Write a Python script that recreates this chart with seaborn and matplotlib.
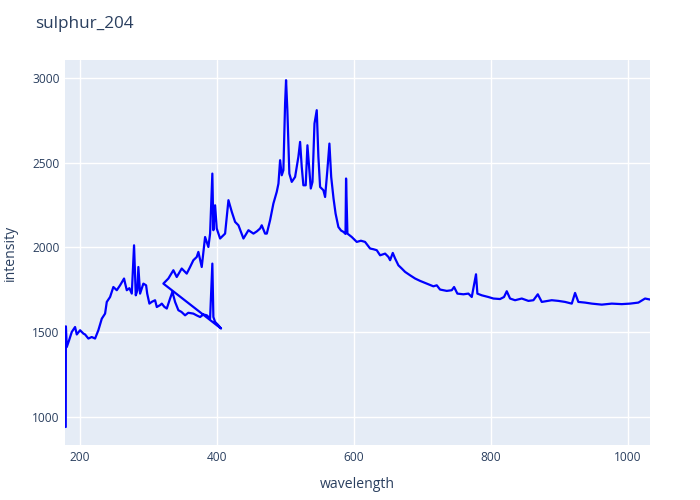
import matplotlib
matplotlib.use("Agg")
import matplotlib.pyplot as plt
import seaborn as sns
import pandas as pd

# first scan (179-406 nm), then second scan restarting at ~322 nm
wavelength = [
    179.1, 179.3, 180.6, 184.0, 187.9, 192.7, 195.2, 200.0, 204.9, 207.3, 212.1, 217.0,
    221.9, 226.7, 231.7, 236.5, 239.0, 243.8, 248.6, 253.6, 258.4, 264.2, 265.7, 268.2,
    272.0, 275.5, 278.8, 281.3, 283.7, 285.1, 287.6, 292.4, 296.4, 298.0, 301.2, 305.0,
    309.5, 312.0, 316.8, 319.3, 323.0, 326.6, 331.4, 334.8, 338.7, 343.5, 348.0, 353.3,
    358.0, 365.4, 370.0, 375.2, 380.0, 385.0, 389.8, 393.1, 394.6, 397.1, 401.0, 405.8,
    321.6, 328.9, 336.2, 341.1, 348.4, 355.7, 360.0, 365.4, 370.3, 372.7, 377.6, 382.5,
    387.3, 389.8, 393.1, 394.6, 397.1, 399.5, 404.4, 411.7, 414.2, 416.6, 421.5, 426.3,
    431.2, 438.5, 445.8, 453.1, 458.0, 462.8, 465.2, 470.1, 472.6, 477.4, 482.2, 487.1,
    489.6, 492.0, 494.4, 496.8, 499.3, 500.7, 502.6, 505.5, 509.0, 513.9, 518.7, 521.2,
    523.6, 526.0, 529.4, 531.9, 534.3, 536.8, 539.3, 542.2, 545.5, 547.9, 550.4, 555.2,
    557.7, 561.0, 564.0, 566.6, 570.0, 573.0, 577.1, 581.0, 584.5, 587.5, 588.3, 590.3,
    596.6, 603.9, 610.0, 616.0, 623.4, 628.0, 633.1, 638.0, 645.3, 650.2, 652.6, 656.5,
    659.9, 664.7, 669.6, 674.5, 681.8, 689.1, 696.4, 706.1, 715.8, 720.7, 725.5, 735.3,
    742.6, 746.0, 750.8, 759.6, 766.9, 771.8, 778.0, 780.0, 786.4, 796.0, 803.4, 813.1,
    818.9, 822.9, 827.7, 835.0, 844.8, 854.5, 861.8, 868.2, 874.0, 888.6, 898.3, 908.0,
    917.8, 922.6, 927.4, 937.2, 947.0, 961.6, 976.2, 990.8, 1002.9, 1015.0, 1024.8, 1032.0,
]
intensity = [
    941, 1535, 1413, 1453, 1502, 1531, 1487, 1512, 1492, 1487, 1463, 1472,
    1463, 1512, 1580, 1610, 1679, 1708, 1767, 1748, 1777, 1817, 1790, 1748,
    1760, 1728, 2013, 1718, 1748, 1885, 1728, 1787, 1777, 1728, 1669, 1680,
    1689, 1649, 1660, 1669, 1650, 1640, 1699, 1738, 1679, 1630, 1620, 1600,
    1615, 1610, 1600, 1590, 1605, 1600, 1581, 1905, 1590, 1561, 1545, 1522,
    1787, 1817, 1866, 1826, 1876, 1846, 1880, 1925, 1944, 1974, 1885, 2062,
    2003, 2082, 2436, 2102, 2249, 2112, 2053, 2082, 2180, 2279, 2210, 2151,
    2131, 2053, 2102, 2082, 2095, 2112, 2131, 2082, 2082, 2161, 2259, 2328,
    2377, 2515, 2426, 2456, 2850, 2987, 2810, 2436, 2387, 2416, 2535, 2623,
    2475, 2367, 2367, 2603, 2475, 2348, 2387, 2731, 2810, 2535, 2357, 2338,
    2298, 2456, 2613, 2416, 2289, 2200, 2121, 2100, 2092, 2080, 2407, 2082,
    2062, 2033, 2040, 2033, 1994, 1990, 1984, 1954, 1964, 1944, 1925, 1968,
    1935, 1895, 1876, 1856, 1836, 1817, 1803, 1787, 1771, 1777, 1752, 1744,
    1748, 1767, 1728, 1724, 1728, 1708, 1842, 1728, 1718, 1708, 1699, 1696,
    1708, 1742, 1699, 1689, 1699, 1685, 1689, 1724, 1679, 1689, 1685, 1679,
    1669, 1732, 1679, 1675, 1669, 1663, 1669, 1666, 1669, 1675, 1699, 1693,
]
x_ticks = [200, 400, 600, 800, 1000]
y_ticks = [1000, 1500, 2000, 2500, 3000]

df = pd.DataFrame({"wavelength": wavelength, "intensity": intensity})

sns.set_theme(style="darkgrid")
plt.rcParams["font.family"] = ["Open Sans", "DejaVu Sans"]

fig = plt.figure(figsize=(7, 5), dpi=100)
ax = fig.add_axes([65 / 700, 55 / 500, 585 / 700, 385 / 500])
ax.set_facecolor("#E5ECF6")

sns.lineplot(data=df, x="wavelength", y="intensity", sort=False, estimator=None,
             color="#0000FF", linewidth=1.6, ax=ax)

ax.set_xlim(178, 1032)
ax.set_ylim(835, 3106)
ax.set_xticks(x_ticks)
ax.set_yticks(y_ticks)
ax.grid(True, color="white", linewidth=1.0)
for s in ax.spines.values():
    s.set_visible(False)
ax.tick_params(axis="both", length=0, labelsize=8.6, colors="#2a3f5f", pad=4)
ax.set_xlabel("wavelength", fontsize=10.1, color="#2a3f5f", labelpad=10)
ax.set_ylabel("intensity", fontsize=10.1, color="#2a3f5f", labelpad=10)

fig.text(35 / 700, 1 - 24 / 500, "sulphur_204", fontsize=12.3, color="#2a3f5f",
         ha="left", va="center")

fig.savefig("out.png", dpi=100)
